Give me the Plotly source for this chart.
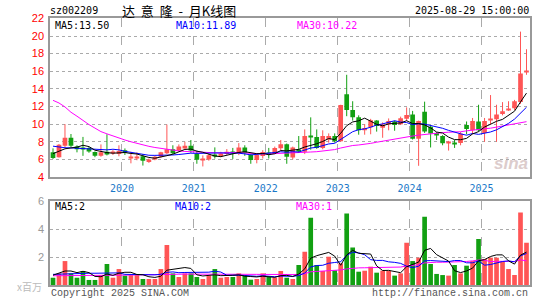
import plotly.graph_objects as go
import pandas as pd

W, H = 545, 300

# ---------------- data ----------------
years = ["2020", "2021", "2022", "2023", "2024", "2025"]
year_first_month = [12, 24, 36, 48, 60, 72]   # index of January of each year (2019-01 = 0)

opens = [6.80, 6.25, 7.55, 8.45, 7.45, 7.35, 7.30, 6.85, 6.40, 6.86,
         6.70, 6.60, 7.05, 6.15, 6.20, 6.35, 5.70, 6.00, 6.30, 6.70,
         7.15, 7.00, 7.35, 7.55, 6.60, 5.95, 6.00, 6.50, 6.35, 6.60,
         6.86, 6.75, 7.36, 6.50, 5.92, 6.37, 6.75, 6.70, 7.27, 7.73,
         6.20, 7.10, 6.87, 8.65, 8.55, 7.30, 8.25, 8.65, 8.05, 13.40,
         11.60, 10.77, 9.30, 9.65, 10.40, 9.60, 10.00, 10.30, 10.00, 10.60,
         11.10, 8.35, 11.40, 9.70, 9.00, 8.66, 7.82, 7.80, 7.85, 9.90,
         9.30, 10.30, 9.00, 10.45, 10.55, 11.15, 11.65, 11.80, 12.50, 15.85]
highs = [7.25, 7.75, 10.00, 8.88, 7.60, 8.55, 7.40, 6.90, 7.70, 8.85,
         7.05, 7.60, 7.24, 6.86, 6.80, 6.60, 6.10, 6.40, 6.86, 9.95,
         7.60, 7.70, 8.00, 8.20, 7.00, 6.45, 6.60, 7.36, 6.86, 7.17,
         7.30, 7.85, 7.60, 6.60, 6.60, 7.05, 7.30, 7.45, 8.20, 7.80,
         7.45, 8.65, 9.40, 10.77, 9.40, 9.30, 8.95, 8.95, 12.20, 15.60,
         12.60, 11.00, 10.00, 10.60, 10.45, 10.20, 10.65, 10.40, 10.85, 11.90,
         11.50, 10.40, 12.55, 9.90, 9.10, 8.75, 8.10, 8.20, 9.10, 10.30,
         10.70, 12.20, 10.70, 13.30, 12.20, 12.50, 12.60, 12.75, 20.50, 18.50]
lows = [6.05, 6.20, 7.30, 7.40, 6.80, 6.40, 6.75, 6.25, 6.30, 6.45,
        6.50, 6.35, 6.50, 5.55, 5.90, 5.30, 5.60, 5.90, 6.20, 6.60,
        6.60, 6.90, 7.20, 6.75, 5.50, 5.20, 5.85, 6.10, 6.25, 6.50,
        6.05, 6.48, 6.40, 5.50, 5.55, 6.10, 6.10, 6.60, 7.00, 5.50,
        6.00, 6.75, 6.60, 7.10, 7.20, 7.15, 7.90, 7.90, 8.00, 10.90,
        10.40, 8.80, 8.80, 8.85, 9.15, 8.45, 9.30, 9.25, 9.90, 10.35,
        8.25, 5.27, 9.00, 7.35, 8.20, 7.60, 7.00, 7.30, 7.60, 8.85,
        8.85, 9.15, 8.00, 9.95, 8.00, 11.00, 11.50, 11.60, 12.30, 15.60]
closes = [6.15, 7.65, 8.45, 7.55, 7.15, 7.20, 6.90, 6.40, 6.80, 6.55,
          6.86, 6.95, 6.75, 6.25, 6.25, 5.85, 6.00, 6.30, 6.80, 7.15,
          6.70, 7.45, 7.55, 7.00, 5.95, 6.10, 6.48, 6.35, 6.67, 6.86,
          6.70, 7.36, 6.75, 5.92, 6.50, 6.84, 6.65, 7.30, 7.73, 6.30,
          7.36, 6.98, 8.65, 8.58, 7.30, 8.65, 8.65, 8.05, 12.17, 11.60,
          10.77, 9.30, 9.55, 10.45, 9.80, 9.97, 10.35, 9.90, 10.66, 11.05,
          8.35, 10.35, 9.15, 8.95, 8.70, 7.82, 8.00, 7.75, 8.90, 9.45,
          10.35, 9.30, 10.35, 10.50, 11.10, 11.45, 11.70, 12.60, 15.75, 16.10]
volumes = [0.52, 0.83, 1.71, 0.83, 0.52, 1.00, 0.36, 0.36, 0.71, 1.50,
           0.52, 1.14, 0.67, 0.71, 0.71, 0.43, 0.43, 0.43, 1.14, 2.86,
           0.83, 0.57, 0.83, 0.83, 0.57, 0.43, 0.67, 1.14, 0.52, 0.57,
           0.57, 0.83, 0.67, 0.38, 0.43, 0.83, 0.57, 0.52, 1.00, 0.52,
           0.43, 1.43, 2.38, 4.81, 1.43, 1.00, 2.02, 1.05, 1.55, 5.10,
           2.67, 0.95, 1.02, 1.31, 0.88, 1.02, 1.00, 0.67, 0.83, 3.02,
           1.71, 1.95, 4.88, 1.50, 0.79, 0.71, 0.67, 1.43, 0.83, 1.38,
           1.71, 3.29, 1.86, 1.95, 1.95, 1.71, 1.14, 0.71, 5.17, 3.02]

# moving-average values before a full window exists
ma5_head = [6.65, 6.95, 7.20, 7.30]
ma10_head = [7.50, 7.40, 7.32, 7.30, 7.25, 7.25, 7.20, 7.12, 7.06]
ma30_head = [12.70, 12.40, 11.95, 11.35, 10.90, 10.40, 9.95, 9.55, 9.15, 8.90,
             8.65, 8.45, 8.20, 8.00, 7.80, 7.65, 7.48, 7.35, 7.24, 7.12,
             7.02, 6.96, 6.90, 6.86, 6.80, 6.78, 6.75, 6.72, 6.72]
vma5_head = [0.70, 0.85, 1.00, 1.00]
vma10_head = [0.76, 0.78, 0.80, 0.82, 0.82, 0.84, 0.84, 0.84, 0.84]
vma30_head = [0.66, 0.66, 0.67, 0.67, 0.68, 0.68, 0.69, 0.69, 0.70, 0.70,
              0.70, 0.71, 0.71, 0.71, 0.72, 0.72, 0.72, 0.72, 0.73, 0.76,
              0.77, 0.77, 0.78, 0.78, 0.78, 0.78, 0.79, 0.80, 0.80]

code = "sz002209"
title_cn = "达\u00a0\u00a0意\u00a0\u00a0隆\u00a0\u00a0-\u00a0\u00a0月K线图"
stamp = "2025-08-29 15:00:00"
ma_labels = ["MA5:13.50", "MA10:11.89", "MA30:10.22"]
vol_labels = ["MA5:2", "MA10:2", "MA30:1"]
price_ticks = [4, 6, 8, 10, 12, 14, 16, 18, 20, 22]
vol_ticks = [2, 4, 6]

# ---------------- derived ----------------
n = len(closes)
idx = list(range(n))


def moving(values, w, head):
    s = pd.Series(values).rolling(w).mean().tolist()
    return list(head) + s[w - 1:]


ma5 = moving(closes, 5, ma5_head)
ma10 = moving(closes, 10, ma10_head)
ma30 = moving(closes, 30, ma30_head)
vma5 = moving(volumes, 5, vma5_head)
vma10 = moving(volumes, 10, vma10_head)
vma30 = moving(volumes, 30, vma30_head)

RED = "#ff5555"
GREEN = "#12a012"
up = [c >= o for o, c in zip(opens, closes)]
colors = [RED if u else GREEN for u in up]

MONO = "DejaVu Sans Mono"

fig = go.Figure()

# wicks
for flag, col in ((True, RED), (False, GREEN)):
    wx, wy = [], []
    for i in idx:
        if up[i] == flag:
            wx += [i, i, None]
            wy += [lows[i], highs[i], None]
    fig.add_trace(go.Scatter(x=wx, y=wy, mode="lines", line=dict(color=col, width=1),
                             hoverinfo="skip", showlegend=False, xaxis="x", yaxis="y"))

# bodies
fig.add_trace(go.Bar(x=idx,
                     y=[max(abs(c - o), 0.12) for o, c in zip(opens, closes)],
                     base=[min(o, c) for o, c in zip(opens, closes)],
                     marker=dict(color=colors, line=dict(width=0)), width=0.78,
                     showlegend=False, xaxis="x", yaxis="y"))

for ys, col in ((ma30, "#ff00ff"), (ma10, "#0000ff"), (ma5, "#000000")):
    fig.add_trace(go.Scatter(x=idx, y=ys, mode="lines", line=dict(color=col, width=1),
                             showlegend=False, xaxis="x", yaxis="y"))

# volume
fig.add_trace(go.Bar(x=idx, y=volumes, marker=dict(color=colors, line=dict(width=0)),
                     width=0.78, showlegend=False, xaxis="x2", yaxis="y2"))
for ys, col in ((vma30, "#ff00ff"), (vma10, "#0000ff"), (vma5, "#000000")):
    fig.add_trace(go.Scatter(x=idx, y=ys, mode="lines", line=dict(color=col, width=1),
                             showlegend=False, xaxis="x2", yaxis="y2"))


def px(x):
    return x / W


def py(y):
    return 1 - y / H


xdom = [px(50), px(529.5)]
year_pos = [m - 0.5 for m in year_first_month]
common_x = dict(domain=xdom, range=[-0.5, n - 0.5], tickvals=year_pos, showgrid=True,
                gridcolor="#aaaaaa", griddash="dash", gridwidth=1, zeroline=False,
                showline=True, mirror=True, linecolor="#999999", linewidth=1.5, ticks="",
                fixedrange=True, automargin=False)
common_y = dict(showgrid=True, gridcolor="#aaaaaa", griddash="dot", gridwidth=1,
                zeroline=False, showline=True, mirror=True, linecolor="#999999",
                linewidth=1.5, ticks="", automargin=False, fixedrange=True,
                ticklabelstandoff=2)

fig.update_layout(
    width=W, height=H, margin=dict(l=0, r=0, t=0, b=0, autoexpand=False),
    paper_bgcolor="white", plot_bgcolor="white", barmode="overlay", showlegend=False,
    xaxis=dict(**common_x, anchor="y", ticktext=years, ticklabelstandoff=1,
               tickfont=dict(family=MONO, size=10, color="#1a78c8")),
    yaxis=dict(**common_y, domain=[py(177), py(18.4)], range=[4, 22], tickvals=price_ticks,
               tickfont=dict(family="Liberation Sans", size=11, color="#ff0000")),
    xaxis2=dict(**common_x, anchor="y2", showticklabels=False),
    yaxis2=dict(**common_y, domain=[py(285), py(201)], range=[0, 6], tickvals=vol_ticks,
                tickfont=dict(family="Liberation Sans", size=11, color="#999999")),
)

anns = []


def ann(text, x, y, anchor="left", color="#000000", size=10, family=MONO):
    anns.append(dict(text=text, x=px(x), y=py(y), xref="paper", yref="paper",
                     xanchor=anchor, yanchor="middle", showarrow=False,
                     font=dict(family=family, size=size, color=color)))


ann(code, 48, 11)
ann(title_cn, 179, 10.5, anchor="center", size=13, family="Noto Sans CJK SC")
ann(stamp, 531, 11, anchor="right")
ann(ma_labels[0], 53, 25)
ann(ma_labels[1], 174, 25, color="#0000ff")
ann(ma_labels[2], 295, 25, color="#ff00ff")
ann(vol_labels[0], 53, 207)
ann(vol_labels[1], 173, 207, color="#0000ff")
ann(vol_labels[2], 294, 207, color="#ff00ff")
ann("x百万", 44, 286, anchor="right", color="#bbbbbb", size=10, family="Noto Sans CJK SC")
ann("Copyright 2025 SINA.COM", 49, 293, color="#555555", family="Liberation Mono")
ann("http://finance.sina.com.cn", 530, 293, anchor="right", color="#555555", family="Liberation Mono")
ann("<b><i>sina</i></b>", 511, 163, anchor="center", color="#dccccc", size=17, family="Liberation Sans")
fig.update_layout(annotations=anns)

fig.write_html("out.html", config={"displayModeBar": False},
               post_script="document.body.style.margin='0';document.body.style.padding='0';")
